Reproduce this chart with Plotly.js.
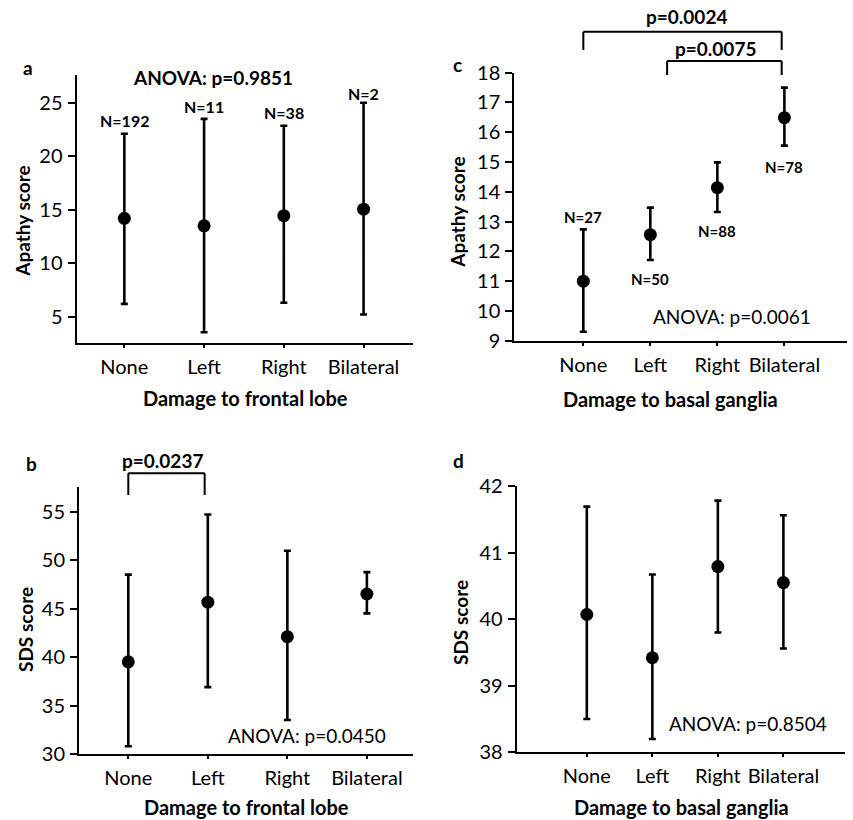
<!DOCTYPE html>
<html>
<head>
<meta charset="utf-8">
<script src="https://cdn.plot.ly/plotly-3.0.1.min.js"></script>
<style>html,body{margin:0;padding:0;background:#fff;}#chart{width:853px;height:820px;}</style>
</head>
<body>
<div id="chart"></div>
<script>
// ---- data ----
const categories = ['None', 'Left', 'Right', 'Bilateral'];

// a: Apathy score by frontal lobe damage
const aMean  = [14.2, 13.5, 14.45, 15.05];
const aUpper = [22.1, 23.5, 22.85, 25.0];
const aLower = [6.2, 3.55, 6.3, 5.2];
const aN     = [192, 11, 38, 2];

// b: SDS score by frontal lobe damage
const bMean  = [39.5, 45.65, 42.1, 46.5];
const bUpper = [48.5, 54.7, 50.95, 48.75];
const bLower = [30.8, 36.9, 33.5, 44.5];

// c: Apathy score by basal ganglia damage
const cMean  = [11.0, 12.56, 14.14, 16.49];
const cUpper = [12.74, 13.47, 14.99, 17.5];
const cLower = [9.3, 11.71, 13.32, 15.55];
const cN     = [27, 50, 88, 78];

// d: SDS score by basal ganglia damage
const dMean  = [40.07, 39.42, 40.79, 40.55];
const dUpper = [41.69, 40.67, 41.78, 41.56];
const dLower = [38.5, 38.2, 39.8, 39.56];

const anova = {a: 'ANOVA: p=0.9851', b: 'ANOVA: p=0.0450', c: 'ANOVA: p=0.0061', d: 'ANOVA: p=0.8504'};

// ---- drawing ----
const FONT = 'Lato, "Open Sans", sans-serif';
const idx = categories.map((_, i) => i);

function trace(mean, upper, lower, xa, ya) {
  return {
    type: 'scatter', mode: 'markers', x: idx, y: mean, xaxis: xa, yaxis: ya,
    marker: {color: '#000', size: 13},
    error_y: {
      type: 'data', symmetric: false,
      array: upper.map((u, i) => u - mean[i]),
      arrayminus: mean.map((m, i) => m - lower[i]),
      color: '#000', thickness: 2.6, width: 3.5
    },
    showlegend: false, hoverinfo: 'x+y'
  };
}

const data = [
  trace(aMean, aUpper, aLower, 'x', 'y'),
  trace(bMean, bUpper, bLower, 'x2', 'y2'),
  trace(cMean, cUpper, cLower, 'x3', 'y3'),
  trace(dMean, dUpper, dLower, 'x4', 'y4')
];

function xaxis(domain, range, anchor) {
  return {
    domain: domain, range: range, anchor: anchor,
    tickmode: 'array', tickvals: idx, ticktext: categories,
    showline: true, linecolor: '#000', linewidth: 2,
    ticks: 'outside', ticklen: 3, tickwidth: 2, tickcolor: '#000',
    showgrid: false, zeroline: false,
    tickfont: {family: FONT, size: 20, color: '#000'},
    ticklabelstandoff: 2, fixedrange: true
  };
}
function yaxis(domain, range, dtick, anchor) {
  return {
    domain: domain, range: range, anchor: anchor, dtick: dtick, tick0: 0,
    showline: true, linecolor: '#000', linewidth: 2,
    ticks: 'outside', ticklen: 7, tickwidth: 2, tickcolor: '#000',
    showgrid: false, zeroline: false,
    tickfont: {family: FONT, size: 20, color: '#000'},
    ticklabelstandoff: 1, fixedrange: true
  };
}

const W = 853, H = 820;
const px = v => v / W;
const py = v => 1 - v / H;

function txt(text, x, y, opts) {
  return Object.assign({
    text: text, x: x, y: y, xref: 'paper', yref: 'paper',
    showarrow: false, xanchor: 'center', yanchor: 'middle',
    font: {family: FONT, size: 19, color: '#000'}
  }, opts || {});
}
const bold = (size) => ({family: FONT, size: size || 19, color: '#000', weight: 'bold'});

const annotations = [
  // panel letters
  txt('a', px(28), py(68), {font: bold(19)}),
  txt('b', px(31.7), py(464), {font: bold(19)}),
  txt('c', px(457.3), py(65), {font: bold(19)}),
  txt('d', px(458.3), py(460), {font: bold(19)}),
  // axis titles
  txt('Apathy score', px(21.7), py(221), {textangle: -90, font: bold(19)}),
  txt('Damage to frontal lobe', px(245), py(398), {font: bold(20)}),
  txt('SDS score', px(25), py(630), {textangle: -90, font: bold(19)}),
  txt('Damage to frontal lobe', px(246.7), py(807), {font: bold(20)}),
  txt('Apathy score', px(458), py(211.7), {textangle: -90, font: bold(19)}),
  txt('Damage to basal ganglia', px(670), py(399), {font: bold(20)}),
  txt('SDS score', px(460), py(623), {textangle: -90, font: bold(19)}),
  txt('Damage to basal ganglia', px(681.7), py(807), {font: bold(20)}),
  // ANOVA
  txt(anova.a, px(213), py(77.3), {font: bold(19)}),
  txt(anova.b, px(307.3), py(735)),
  txt(anova.c, px(731.7), py(316)),
  txt(anova.d, px(748.3), py(723.3)),
  // pairwise p-values
  txt('p=0.0237', px(162.7), py(460), {font: bold(19)}),
  txt('p=0.0024', px(686.7), py(16), {font: bold(19)}),
  txt('p=0.0075', px(715), py(48.3), {font: bold(19)})
];

// N labels (data-space positions)
const aNy = [23.3, 24.7, 24.07, 25.9];
aN.forEach((n, i) => annotations.push({
  text: 'N=' + n, x: i, y: aNy[i], xref: 'x', yref: 'y', showarrow: false,
  xanchor: 'center', yanchor: 'middle', font: bold(16)
}));
const cNy = [13.16, 11.06, 12.68, 14.84];
cN.forEach((n, i) => annotations.push({
  text: 'N=' + n, x: i, y: cNy[i], xref: 'x3', yref: 'y3', showarrow: false,
  xanchor: 'center', yanchor: 'middle', font: bold(15)
}));

function bracket(xref, x0, x1, yTop, yBot) {
  const line = {color: '#000', width: 2};
  return [
    {type: 'line', xref: xref, yref: 'paper', x0: x0, x1: x1, y0: yTop, y1: yTop, line: line},
    {type: 'line', xref: xref, yref: 'paper', x0: x0, x1: x0, y0: yTop, y1: yBot, line: line},
    {type: 'line', xref: xref, yref: 'paper', x0: x1, x1: x1, y0: yTop, y1: yBot, line: line}
  ];
}
const shapes = [].concat(
  bracket('x2', 0, 0.96, py(473.3), py(495)),
  bracket('x3', 0, 2.96, py(31.7), py(50)),
  bracket('x3', 1.25, 2.96, py(61), py(75))
);

const layout = {
  width: W, height: H,
  margin: {l: 0, r: 0, t: 0, b: 0},
  paper_bgcolor: '#fff', plot_bgcolor: 'rgba(0,0,0,0)',
  font: {family: FONT, size: 19, color: '#000'},
  showlegend: false,
  xaxis:  xaxis([px(76.5), px(413)], [-0.6, 3.62], 'y'),
  yaxis:  yaxis([py(343), py(75)], [2.54, 27.6], 5, 'x'),
  xaxis2: xaxis([px(79), px(413)], [-0.62, 3.58], 'y2'),
  yaxis2: yaxis([py(754), py(487.3)], [30, 57.5], 5, 'x2'),
  xaxis3: xaxis([px(514.3), px(846.7)], [-1.03, 3.93], 'y3'),
  yaxis3: yaxis([py(340.7), py(72.7)], [9, 18], 1, 'x3'),
  xaxis4: xaxis([px(516.7), px(845)], [-1.07, 3.94], 'y4'),
  yaxis4: yaxis([py(752.3), py(486)], [38, 42], 1, 'x4'),
  annotations: annotations,
  shapes: shapes
};

Plotly.newPlot('chart', data, layout, {staticPlot: true, displayModeBar: false});
</script>
</body>
</html>
